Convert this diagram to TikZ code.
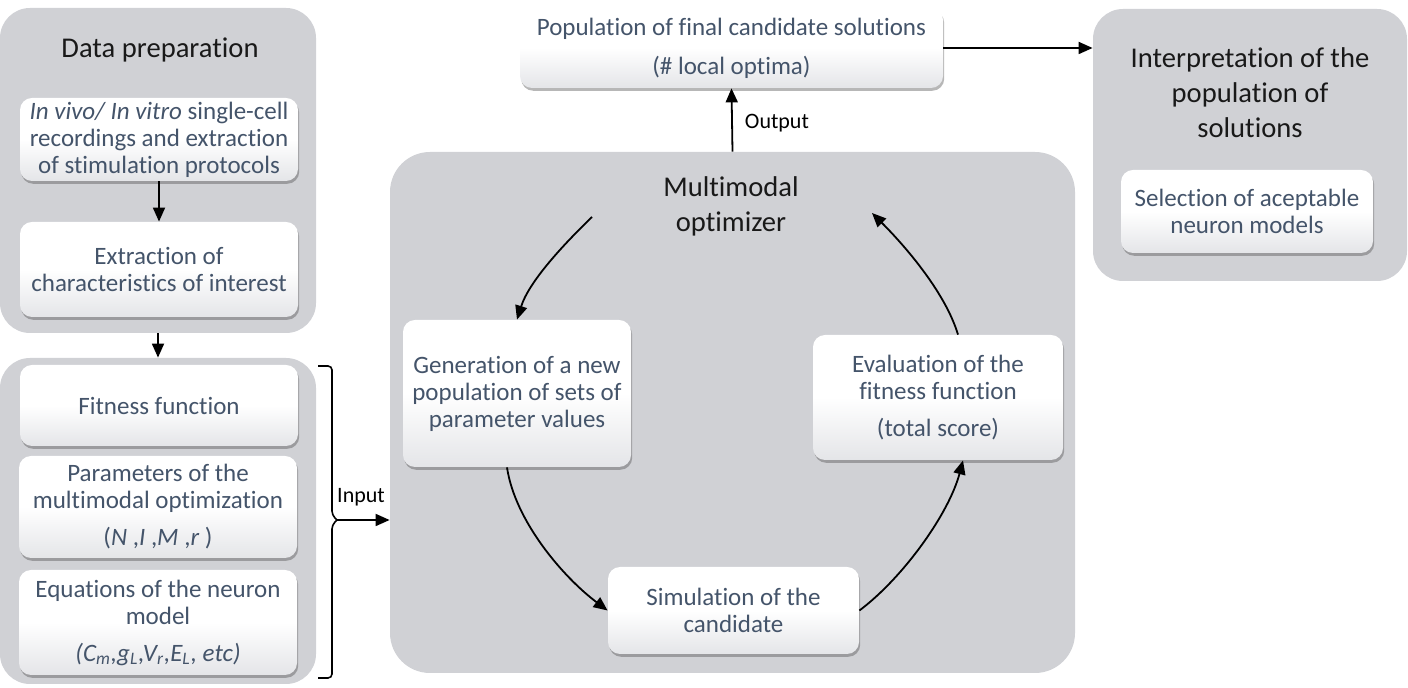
\documentclass[tikz,border=0pt]{standalone}
\usepackage{fontspec}
\setmainfont{Carlito}[Ligatures=NoCommon]
\usetikzlibrary{arrows.meta,shadows}
\definecolor{boxgray}{HTML}{D0D1D5}
\definecolor{shadegray}{HTML}{E4E5E8}
\definecolor{txt}{HTML}{44546A}
\newcommand{\bodyfont}{\fontsize{12.5}{13.5}\selectfont}
\newcommand{\hdrfont}{\fontsize{14.3}{17.5}\selectfont}
\newcommand{\lblfont}{\fontsize{11}{13}\selectfont}
\tikzset{
  graybox/.style={fill=boxgray, rounded corners=15pt, inner sep=0pt, draw=none},
  wbox/.style={rounded corners=6pt, top color=white, bottom color=shadegray, middle color=white,
    text=txt, align=center, inner sep=0pt, font=\bodyfont,
    drop shadow={shadow xshift=0.6pt, shadow yshift=-1.4pt, opacity=0.4, fill=black!70}},
  hdr/.style={align=center, font=\hdrfont, text=black!90, inner sep=0pt},
  lbl/.style={font=\lblfont, text=black, inner sep=0pt},
  arr/.style={-{Triangle[length=7pt,width=6pt]}, line width=0.9pt, black},
}
\begin{document}
\begin{tikzpicture}[x=0.5pt,y=-0.5pt]
\useasboundingbox (0,0) rectangle (1408,688);
% gray containers
\node[graybox, minimum width=158pt, minimum height=162.5pt] (dp) at (158,170.5) {};
\node[graybox, minimum width=158pt, minimum height=163pt] (inp) at (158,521) {};
\node[graybox, rounded corners=20pt, minimum width=342.5pt, minimum height=260.5pt] (opt) at (732.5,412.5) {};
\node[graybox, minimum width=157pt, minimum height=136pt] (interp) at (1250,145) {};
% headers
\node[hdr] (hdp) at (160,50) {Data preparation};
\node[hdr] (hopt) at (731,206) {Multimodal\\optimizer};
\node[hdr] (hint) at (1250,93) {Interpretation of the\\population of\\solutions};
% white boxes
\node[wbox, minimum width=139pt, minimum height=41.5pt] (b1) at (159,139.5)
  {\textit{In vivo/ In vitro} single-cell\\recordings and extraction\\of stimulation protocols};
\node[wbox, minimum width=139pt, minimum height=47.5pt] (b2) at (159,269.5)
  {Extraction of\\characteristics of interest};
\node[wbox, minimum width=139pt, minimum height=40.5pt] (ff) at (159,405.5) {Fitness function};
\node[wbox, minimum width=139pt, minimum height=51pt] (par) at (158,507)
  {Parameters of the\\multimodal optimization\\[5pt](\textit{N} ,\textit{I} ,\textit{M} ,\textit{r} )};
\node[wbox, minimum width=139pt, minimum height=52.5pt] (eq) at (158,622.5)
  {Equations of the neuron\\model\\[5pt]\textit{(C\textsubscript{m},g\textsubscript{L},V\textsubscript{r},E\textsubscript{L}, etc)}};
\node[wbox, minimum width=114pt, minimum height=73.5pt] (gen) at (517,393.5)
  {Generation of a new\\population of sets of\\parameter values};
\node[wbox, minimum width=125pt, minimum height=62.5pt] (eval) at (938,397.5)
  {Evaluation of the\\fitness function\\[5pt](total score)};
\node[wbox, minimum width=125.5pt, minimum height=43.5pt] (sim) at (733.5,610.5)
  {Simulation of the\\candidate};
\node[wbox, minimum width=211.5pt, minimum height=40pt] (top) at (731.5,48)
  {Population of final candidate solutions\\[6pt](\# local optima)};
\node[wbox, minimum width=126pt, minimum height=41.5pt] (sel) at (1247,211.5)
  {Selection of aceptable\\neuron models};
% straight arrows
\draw[arr] (b1.south) -- (b2.north);
\draw[arr] (dp.south) -- (inp.north);
\draw[arr] (opt.north) -- (top.south) node[lbl, pos=0.45, anchor=west, xshift=6pt] (lout) {Output};
\draw[arr] (top.east) -- (top.east -| interp.west);
% brace
\coordinate (brtip) at (337,520);
\draw[line width=0.8pt, rounded corners=2pt] (318,366) -- (332,366) -- (332,515) -- (brtip);
\draw[line width=0.8pt, rounded corners=2pt] (brtip) -- (332,525) -- (332,678) -- (318,678);
\draw[arr] (brtip) -- (brtip -| opt.west);
\node[lbl] (lin) at (361,497) {Input};
% cycle arrows
\coordinate (cstart) at (592,217);
\coordinate (cend) at (872,213);
\draw[arr] (cstart) .. controls +(-29,28) and +(12,-38) .. (gen.north);
\draw[arr] ([xshift=-5pt]gen.south) .. controls +(8,54) and +(-44,-33) .. (sim.west);
\draw[arr] (sim.east) .. controls +(44,-33) and +(-14,53) .. ([xshift=12.5pt]eval.south);
\draw[arr] ([xshift=10pt]eval.north) .. controls +(-13,-43) and +(32,32) .. (cend);
\end{tikzpicture}
\end{document}
